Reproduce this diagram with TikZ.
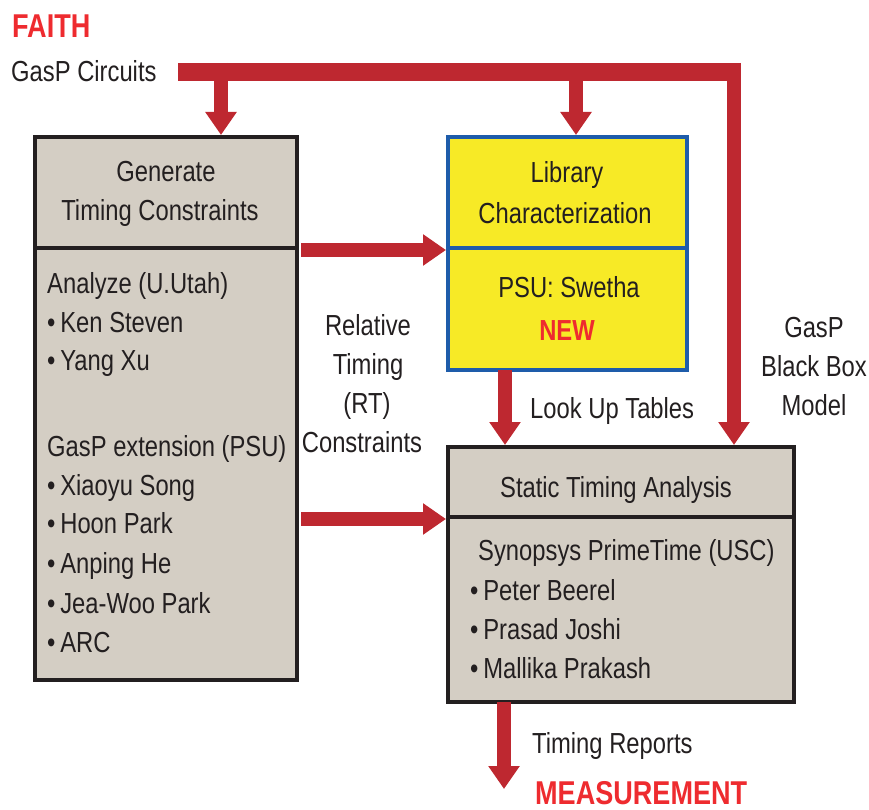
\documentclass[tikz,border=0pt]{standalone}
\usepackage{fontspec}
\setmainfont[FakeStretch=0.82]{Liberation Sans}
\usetikzlibrary{arrows.meta}
\definecolor{arrred}{RGB}{190,40,48}
\definecolor{txtred}{RGB}{238,43,47}
\definecolor{boxgray}{RGB}{212,206,196}
\definecolor{boxyel}{RGB}{247,234,38}
\definecolor{boxblue}{RGB}{30,92,170}
\definecolor{txtdark}{RGB}{35,31,32}
\tikzset{
  graybox/.style={draw=txtdark, line width=4pt, fill=boxgray, inner sep=0pt, rectangle},
  yelbox/.style={draw=boxblue, line width=4pt, fill=boxyel, inner sep=0pt, rectangle},
  lbl/.style={inner sep=0pt, text=txtdark, font=\fontsize{29}{34}\selectfont},
  redlbl/.style={inner sep=0pt, text=txtred, font=\fontsize{33}{39}\selectfont\bfseries},
  arr/.style={draw=arrred, line width=14pt, -{Triangle[width=30pt,length=23pt]}},
  bar/.style={draw=arrred, line width=18pt},
}
\begin{document}
\begin{tikzpicture}[x=1pt,y=-1pt]
\useasboundingbox (0,0) rectangle (869,810);

% boxes
\node[graybox, minimum width=262pt, minimum height=432pt] (genB) at (166,464) {};
\node[graybox, minimum width=262pt, minimum height=111pt] (genT) at (166,192.5) {};
\node[yelbox, minimum width=239pt, minimum height=122pt] (libB) at (567.5,309) {};
\node[yelbox, minimum width=239pt, minimum height=111pt] (libT) at (567.5,192.5) {};
\node[graybox, minimum width=346pt, minimum height=185pt] (staB) at (621,609.5) {};
\node[graybox, minimum width=346pt, minimum height=70pt] (staT) at (621,482) {};

% top feed bar
\coordinate (src) at (178,72);
\coordinate (cornerR) at (741,72);
\coordinate (b1) at (221,63);
\coordinate (b2) at (576,63);
\coordinate (b3) at (734,63);
\draw[bar] (src) -- (cornerR);
\draw[arr] (b1) -- (b1 |- genT.north);
\draw[arr] (b2) -- (b2 |- libT.north);
\draw[arr] (b3) -- (b3 |- staT.north);

% connectors between boxes
\draw[arr] ([xshift=2pt]genT.south east) -- (libT.south west);
\draw[arr] ([xshift=2pt]genB.east |- staT.south) -- (staT.south west);
\draw[arr] ([xshift=-62.5pt,yshift=2pt]libB.south) -- ([xshift=-62.5pt]libB.south |- staT.north);
\coordinate (measTip) at (504,789);
\draw[arr] ([xshift=-117pt,yshift=2pt]staB.south) -- (measTip);

% titles
\node[redlbl, anchor=base west] (faith) at (12,38) {FAITH};
\node[lbl, anchor=base west] (gasp) at (11,82) {GasP Circuits};
\node[redlbl, anchor=base west] (meas) at (535,804) {MEASUREMENT};

% generate box text
\node[lbl, anchor=base] (g1) at (166,182) {Generate};
\node[lbl, anchor=base] (g2) at (160,221) {Timing Constraints};
\node[lbl, anchor=base west] (a1) at (47,293) {Analyze (U.Utah)};
\node[lbl, anchor=base west] (a2) at (47,332) {•\,Ken Steven};
\node[lbl, anchor=base west] (a3) at (47,370) {•\,Yang Xu};
\node[lbl, anchor=base west] (a4) at (47,456) {GasP extension (PSU)};
\node[lbl, anchor=base west] (a5) at (47,495) {•\,Xiaoyu Song};
\node[lbl, anchor=base west] (a6) at (47,533) {•\,Hoon Park};
\node[lbl, anchor=base west] (a7) at (47,573) {•\,Anping He};
\node[lbl, anchor=base west] (a8) at (47,613) {•\,Jea-Woo Park};
\node[lbl, anchor=base west] (a9) at (47,652) {•\,ARC};

% library box text
\node[lbl, anchor=base] (l1) at (567,183) {Library};
\node[lbl, anchor=base] (l2) at (565,223) {Characterization};
\node[lbl, anchor=base] (l3) at (569,297) {PSU: Swetha};
\node[lbl, anchor=base, text=txtred, font=\fontsize{29}{34}\selectfont\bfseries] (l4) at (567,340) {NEW};

% middle labels
\node[lbl, anchor=base] (r1) at (368,335) {Relative};
\node[lbl, anchor=base] (r2) at (368,374) {Timing};
\node[lbl, anchor=base] (r3) at (367,413) {(RT)};
\node[lbl, anchor=base] (r4) at (362,452) {Constraints};

\node[lbl, anchor=base] (m1) at (814,337) {GasP};
\node[lbl, anchor=base] (m2) at (814,376) {Black Box};
\node[lbl, anchor=base] (m3) at (814,415) {Model};

\node[lbl, anchor=base west] (lut) at (530,418) {Look Up Tables};
\node[lbl, anchor=base west] (rep) at (532,753) {Timing Reports};

% static timing text
\node[lbl, anchor=base] (s1) at (616,497) {Static Timing Analysis};
\node[lbl, anchor=base west] (s2) at (478,560) {Synopsys PrimeTime (USC)};
\node[lbl, anchor=base west] (s3) at (470,600) {•\,Peter Beerel};
\node[lbl, anchor=base west] (s4) at (470,639) {•\,Prasad Joshi};
\node[lbl, anchor=base west] (s5) at (470,678) {•\,Mallika Prakash};
\end{tikzpicture}
\end{document}
